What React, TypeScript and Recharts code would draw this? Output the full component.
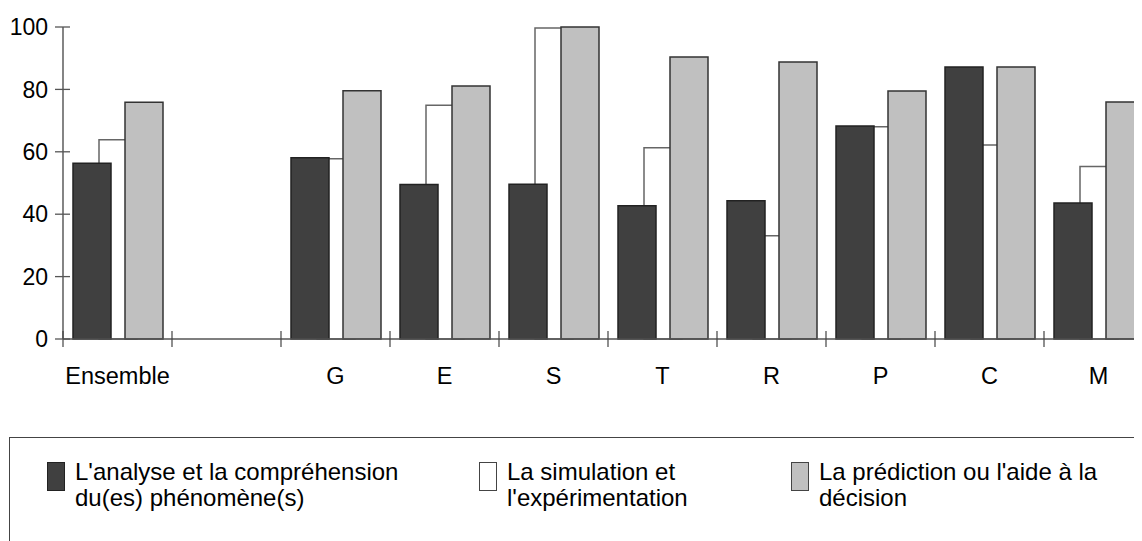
import React from "react";
import { BarChart, Bar, XAxis, YAxis } from "recharts";

const categories = ["Ensemble", " ", "G", "E", "S", "T", "R", "P", "C", "M"];
const analyse = [56.3, null, 58.1, 49.5, 49.6, 42.7, 44.3, 68.3, 87.2, 43.6];
const simulation = [63.9, null, 57.8, 74.9, 99.7, 61.3, 33.1, 68.0, 62.2, 55.3];
const prediction = [75.9, null, 79.6, 81.1, 100, 90.4, 88.8, 79.5, 87.2, 76.0];
const yTicks = [0, 20, 40, 60, 80, 100];
const legendLabels = [
  ["L'analyse et la compréhension", "du(es) phénomène(s)"],
  ["La simulation et", "l'expérimentation"],
  ["La prédiction ou l'aide à la", "décision"],
];

const FONT = "'Liberation Sans', Arial, Helvetica, sans-serif";
const DARK = "#404040";
const GREY = "#c0c0c0";

const data = categories.map((c, i) => ({
  cat: c,
  analyse: analyse[i],
  simulation: simulation[i],
  prediction: prediction[i],
}));

const YTick = (props: any) => {
  const { x, y, payload } = props;
  return (
    <g>
      <line x1={x - 8} x2={x + 7} y1={y} y2={y} stroke="#555" strokeWidth={1.3} />
      <text x={x - 15} y={y} dy="0.36em" textAnchor="end" fontSize={23} fill="#000" fontFamily={FONT}>
        {payload.value}
      </text>
    </g>
  );
};

const XTick = (props: any) => {
  const { x, y, payload } = props;
  const half = payload.offset || 54.5;
  return (
    <g>
      <line x1={x - half} x2={x - half} y1={y - 8} y2={y + 8} stroke="#444" strokeWidth={1.2} />
      <text x={x} y={y + 45} textAnchor="middle" fontSize={23.5} fill="#000" fontFamily={FONT}>
        {payload.value}
      </text>
    </g>
  );
};

const legendStyles = [
  { background: DARK, border: "1.5px solid #222" },
  { background: "#fff", border: "1px solid #444" },
  { background: GREY, border: "1.5px solid #444" },
];
const legendRectLeft = [37, 469, 781];
const legendTextLeft = [65, 497, 809];

export default function App() {
  return (
    <div style={{ width: 1134, height: 533, overflow: "hidden", position: "relative", fontFamily: FONT }}>
      <BarChart
        width={1160}
        height={420}
        data={data}
        barGap={14}
        margin={{ top: 19, right: 15, left: 0, bottom: 29 }}
      >
        <XAxis
          xAxisId="front"
          dataKey="cat"
          height={60}
          tick={<XTick />}
          tickLine={false}
          tickSize={0}
          tickMargin={0}
          axisLine={{ stroke: "#555", strokeWidth: 1.3 }}
          interval={0}
        />
        <XAxis xAxisId="back" dataKey="cat" hide height={0} />
        <YAxis
          domain={[0, 100]}
          ticks={yTicks}
          width={55}
          tick={<YTick />}
          tickLine={false}
          tickSize={0}
          tickMargin={0}
          axisLine={{ stroke: "#333", strokeWidth: 1.2 }}
          interval={0}
        />
        <Bar
          xAxisId="back"
          dataKey="simulation"
          barSize={38}
          fill="#fff"
          stroke="#666"
          strokeWidth={1.5}
          isAnimationActive={false}
        />
        <Bar
          xAxisId="front"
          dataKey="analyse"
          barSize={38}
          fill={DARK}
          stroke="#222"
          strokeWidth={1.5}
          isAnimationActive={false}
        />
        <Bar
          xAxisId="front"
          dataKey="prediction"
          barSize={38}
          fill={GREY}
          stroke="#333"
          strokeWidth={1.5}
          isAnimationActive={false}
        />
      </BarChart>
      <div
        style={{
          position: "absolute",
          left: 1,
          top: 429,
          width: 1400,
          height: 300,
          border: "1px solid #444",
          boxSizing: "border-box",
        }}
      >
        {legendLabels.map((lines, i) => (
          <React.Fragment key={i}>
            <div
              style={{
                position: "absolute",
                left: legendRectLeft[i],
                top: 24,
                width: 18,
                height: 29,
                boxSizing: "border-box",
                ...legendStyles[i],
              }}
            />
            <div
              style={{
                position: "absolute",
                left: legendTextLeft[i],
                top: 21,
                fontSize: 24,
                lineHeight: "26px",
                color: "#000",
                whiteSpace: "nowrap",
              }}
            >
              {lines.map((l, j) => (
                <div key={j}>{l}</div>
              ))}
            </div>
          </React.Fragment>
        ))}
      </div>
    </div>
  );
}
